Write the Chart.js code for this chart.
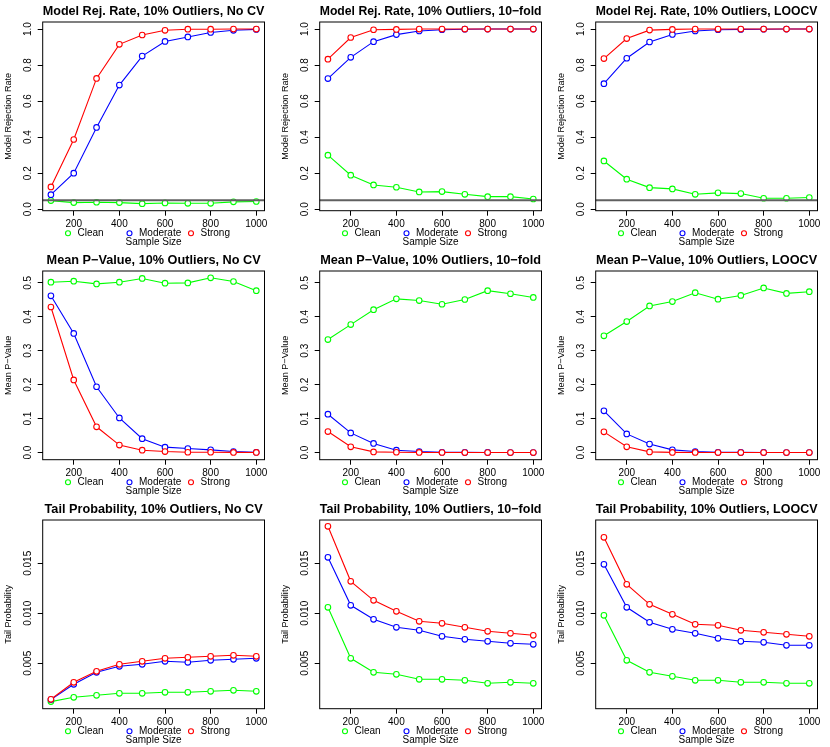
<!DOCTYPE html>
<html>
<head>
<meta charset="utf-8">
<script src="https://cdn.jsdelivr.net/npm/chart.js@4.4.1/dist/chart.umd.min.js"></script>
<style>
  html, body { margin: 0; padding: 0; background: #fff; }
  #grid { position: relative; width: 830px; height: 747px; }
  #grid canvas { position: absolute; }
</style>
</head>
<body>
<div id="grid"></div>
<script>
// --- data ---
const sampleSizes = [100, 200, 300, 400, 500, 600, 700, 800, 900, 1000];
const xTicks = [200, 400, 600, 800, 1000];
const rejTicks = [0, 0.2, 0.4, 0.6, 0.8, 1.0];
const pvalTicks = [0, 0.1, 0.2, 0.3, 0.4, 0.5];
const tailTicks = [0.005, 0.010, 0.015];
const seriesNames = ['Clean', 'Moderate', 'Strong'];
const seriesColors = ['#00ff00', '#0000ff', '#ff0000'];
const methodNames = ['No CV', '10\u2212fold', 'LOOCV'];
const refLevel = 0.05; // nominal level line on rejection plots

// model rejection rate
const rejNoCV_clean    = [0.048, 0.037, 0.039, 0.037, 0.031, 0.035, 0.033, 0.033, 0.041, 0.043];
const rejNoCV_moderate = [0.081, 0.200, 0.454, 0.689, 0.850, 0.931, 0.956, 0.981, 0.993, 0.998];
const rejNoCV_strong   = [0.124, 0.387, 0.726, 0.915, 0.967, 0.993, 0.999, 0.999, 1.000, 1.000];
const rej10_clean      = [0.300, 0.189, 0.135, 0.122, 0.096, 0.098, 0.083, 0.070, 0.070, 0.057];
const rej10_moderate   = [0.725, 0.843, 0.930, 0.969, 0.989, 0.996, 0.999, 1.000, 1.000, 1.000];
const rej10_strong     = [0.833, 0.953, 0.996, 0.998, 1.000, 1.000, 1.000, 1.000, 1.000, 1.000];
const rejLOO_clean     = [0.268, 0.167, 0.120, 0.113, 0.083, 0.091, 0.087, 0.061, 0.061, 0.065];
const rejLOO_moderate  = [0.697, 0.838, 0.928, 0.970, 0.989, 0.996, 0.998, 0.999, 1.000, 1.000];
const rejLOO_strong    = [0.836, 0.947, 0.994, 0.998, 1.000, 1.000, 1.000, 1.000, 1.000, 1.000];

// mean p-value
const pvalNoCV_clean    = [0.502, 0.505, 0.497, 0.502, 0.513, 0.499, 0.500, 0.515, 0.504, 0.477];
const pvalNoCV_moderate = [0.462, 0.351, 0.194, 0.102, 0.041, 0.016, 0.012, 0.008, 0.003, 0.001];
const pvalNoCV_strong   = [0.429, 0.214, 0.076, 0.022, 0.007, 0.003, 0.001, 0.001, 0.0005, 0.0003];
const pval10_clean      = [0.333, 0.377, 0.421, 0.453, 0.448, 0.437, 0.451, 0.477, 0.468, 0.457];
const pval10_moderate   = [0.113, 0.058, 0.027, 0.007, 0.003, 0.001, 0.0005, 0.0003, 0.0002, 0.0001];
const pval10_strong     = [0.062, 0.017, 0.002, 0.001, 0.0004, 0.0002, 0.0001, 0.0001, 0, 0];
const pvalLOO_clean     = [0.344, 0.386, 0.432, 0.445, 0.471, 0.452, 0.463, 0.485, 0.469, 0.474];
const pvalLOO_moderate  = [0.123, 0.055, 0.025, 0.008, 0.003, 0.001, 0.0005, 0.0003, 0.0002, 0.0001];
const pvalLOO_strong    = [0.061, 0.017, 0.002, 0.0005, 0.0003, 0.0001, 0.0001, 0, 0, 0];

// tail probability
const tailNoCV_clean    = [0.00117, 0.0016, 0.0018, 0.0020, 0.0020, 0.0021, 0.0021, 0.0022, 0.0023, 0.0022];
const tailNoCV_moderate = [0.00137, 0.0029, 0.0041, 0.0047, 0.0049, 0.0052, 0.0051, 0.0053, 0.0054, 0.0055];
const tailNoCV_strong   = [0.0014, 0.0031, 0.0042, 0.0049, 0.0052, 0.0055, 0.0056, 0.0057, 0.0058, 0.0057];
const tail10_clean      = [0.0106, 0.0055, 0.0041, 0.0039, 0.0034, 0.0034, 0.0033, 0.0030, 0.0031, 0.0030];
const tail10_moderate   = [0.0156, 0.0108, 0.0094, 0.0086, 0.0083, 0.0077, 0.0074, 0.0072, 0.0070, 0.0069];
const tail10_strong     = [0.0187, 0.0132, 0.0113, 0.0102, 0.0092, 0.0090, 0.0086, 0.0082, 0.0080, 0.0078];
const tailLOO_clean     = [0.0098, 0.0053, 0.0041, 0.0037, 0.0033, 0.0033, 0.0031, 0.0031, 0.0030, 0.0030];
const tailLOO_moderate  = [0.0149, 0.0106, 0.0091, 0.0084, 0.0080, 0.0075, 0.0072, 0.0071, 0.0068, 0.0068];
const tailLOO_strong    = [0.0176, 0.0129, 0.0109, 0.0099, 0.0089, 0.0088, 0.0083, 0.0081, 0.0079, 0.0077];

// one entry per row of the grid
const rows = [
  { title: 'Model Rej. Rate, 10% Outliers, ', ylab: 'Model Rejection Rate',
    ticks: rejTicks, digits: 1, ymin: -0.008, ymax: 1.039, ref: refLevel,
    series: [[rejNoCV_clean, rejNoCV_moderate, rejNoCV_strong],
             [rej10_clean, rej10_moderate, rej10_strong],
             [rejLOO_clean, rejLOO_moderate, rejLOO_strong]] },
  { title: 'Mean P\u2212Value, 10% Outliers, ', ylab: 'Mean P\u2212Value',
    ticks: pvalTicks, digits: 1, ymin: -0.021, ymax: 0.535, ref: null,
    series: [[pvalNoCV_clean, pvalNoCV_moderate, pvalNoCV_strong],
             [pval10_clean, pval10_moderate, pval10_strong],
             [pvalLOO_clean, pvalLOO_moderate, pvalLOO_strong]] },
  { title: 'Tail Probability, 10% Outliers, ', ylab: 'Tail Probability',
    ticks: tailTicks, digits: 3, ymin: 0.00046, ymax: 0.01933, ref: null,
    series: [[tailNoCV_clean, tailNoCV_moderate, tailNoCV_strong],
             [tail10_clean, tail10_moderate, tail10_strong],
             [tailLOO_clean, tailLOO_moderate, tailLOO_strong]] }
];

const FONT = '"Liberation Sans", Arial, Helvetica, sans-serif';
const PANEL_W = 830 / 3, PANEL_H = 249;

// box, reference line, rotated y labels and R style legend
const rStyle = {
  id: 'rStyle',
  afterDatasetsDraw(chart, args, opts) {
    if (opts.ref == null) return;
    const { ctx, chartArea: a, scales: { y } } = chart;
    const py = y.getPixelForValue(opts.ref);
    ctx.save();
    ctx.strokeStyle = '#606060';
    ctx.lineWidth = 1.8;
    ctx.beginPath();
    ctx.moveTo(a.left, py);
    ctx.lineTo(a.right, py);
    ctx.stroke();
    ctx.restore();
  },
  afterDraw(chart) {
    const { ctx, chartArea: a, scales: { y } } = chart;
    ctx.save();
    ctx.strokeStyle = '#000';
    ctx.lineWidth = 1;
    ctx.strokeRect(a.left, a.top, a.right - a.left, a.bottom - a.top);

    ctx.fillStyle = '#000';
    ctx.font = '10px ' + FONT;
    ctx.textAlign = 'center';
    ctx.textBaseline = 'middle';
    y.ticks.forEach(t => {
      ctx.save();
      ctx.translate(a.left - 14, y.getPixelForValue(t.value));
      ctx.rotate(-Math.PI / 2);
      ctx.fillText(t.label, 0, 0);
      ctx.restore();
    });

    const ly = a.bottom + 22.6;
    ctx.font = '10px ' + FONT;
    ctx.textAlign = 'left';
    chart.data.datasets.forEach((ds, i) => {
      const cx = a.left + 25.3 + i * 61.5;
      ctx.beginPath();
      ctx.arc(cx, ly, 2.5, 0, Math.PI * 2);
      ctx.strokeStyle = ds.borderColor;
      ctx.lineWidth = 1.1;
      ctx.stroke();
      ctx.fillStyle = '#000';
      ctx.fillText(ds.label, cx + 9.5, ly);
    });
    ctx.restore();
  }
};

const grid = document.getElementById('grid');

rows.forEach((row, r) => {
  methodNames.forEach((method, c) => {
    const left = Math.round(c * PANEL_W);
    const w = Math.round((c + 1) * PANEL_W) - left;
    const canvas = document.createElement('canvas');
    canvas.width = w;
    canvas.height = PANEL_H;
    canvas.style.left = left + 'px';
    canvas.style.top = (r * PANEL_H) + 'px';
    canvas.style.width = w + 'px';
    canvas.style.height = PANEL_H + 'px';
    grid.appendChild(canvas);

    const datasets = seriesNames.map((name, k) => ({
      label: name,
      data: row.series[c][k].map((v, i) => ({ x: sampleSizes[i], y: v })),
      borderColor: seriesColors[k],
      backgroundColor: '#fff',
      pointBackgroundColor: '#fff',
      pointBorderColor: seriesColors[k],
      pointRadius: 2.8,
      pointBorderWidth: 1.1,
      borderWidth: 1.1,
      tension: 0,
      order: 2 - k
    }));

    new Chart(canvas, {
      type: 'line',
      data: { datasets },
      options: {
        responsive: false,
        animation: false,
        events: [],
        layout: { padding: { left: 0, top: 0, right: w - 264.5, bottom: 0 } },
        plugins: {
          legend: { display: false },
          tooltip: { enabled: false },
          title: {
            display: true,
            fullSize: false,
            text: row.title + method,
            color: '#000',
            font: { family: FONT, size: 12.7, weight: 'bold' },
            padding: { top: 4, bottom: 2.76 }
          },
          rStyle: { ref: row.ref }
        },
        scales: {
          x: {
            type: 'linear',
            min: 64,
            max: 1036,
            bounds: 'data',
            afterBuildTicks: s => { s.ticks = xTicks.map(v => ({ value: v })); },
            afterFit: s => { s.height = 38.3; },
            border: { display: false },
            grid: { drawOnChartArea: false, drawTicks: true, tickLength: 5, color: '#000', lineWidth: 1 },
            ticks: {
              color: '#000', font: { family: FONT, size: 10 }, padding: 3,
              maxRotation: 0, autoSkip: false, callback: v => String(v)
            },
            title: {
              display: true, text: 'Sample Size', color: '#000',
              font: { family: FONT, size: 10 }, padding: { top: 0, bottom: 0.5 }
            }
          },
          y: {
            min: row.ymin,
            max: row.ymax,
            bounds: 'data',
            afterBuildTicks: s => { s.ticks = row.ticks.map(v => ({ value: v })); },
            afterFit: s => { s.width = 42.7; },
            border: { display: false },
            grid: { drawOnChartArea: false, drawTicks: true, tickLength: 5, color: '#000', lineWidth: 1 },
            ticks: { display: false, callback: v => v.toFixed(row.digits) },
            title: {
              display: true, text: row.ylab, color: '#000',
              font: { family: FONT, size: 9.1 }, padding: { top: 3.2, bottom: 0 }
            }
          }
        }
      },
      plugins: [rStyle]
    });
  });
});
</script>
</body>
</html>
